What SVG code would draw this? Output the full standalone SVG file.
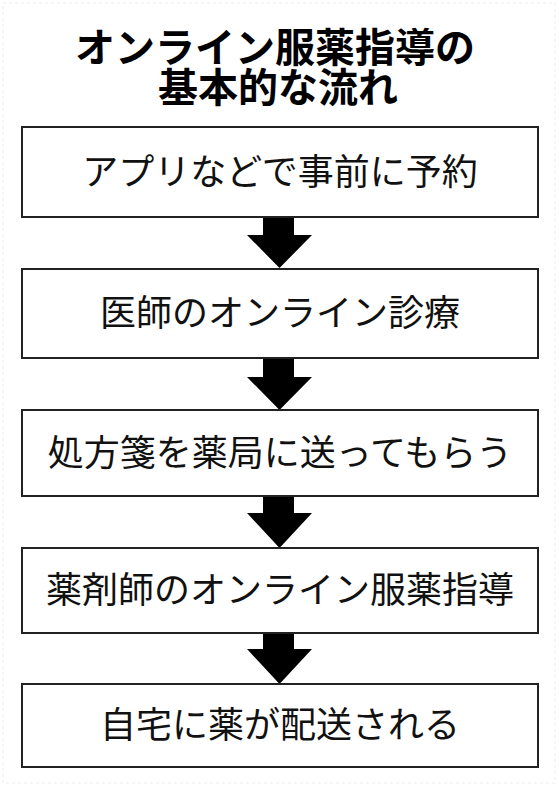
<svg xmlns="http://www.w3.org/2000/svg" width="559" height="787" viewBox="0 0 559 787">
<style>
.box{fill:#fff;stroke:#222;stroke-width:2}
.t{font-family:"Noto Sans CJK JP","Noto Sans CJK SC",sans-serif;font-size:36px;fill:#111;text-anchor:middle}
.title{font-family:"Noto Sans CJK JP","Noto Sans CJK SC",sans-serif;font-size:40px;font-weight:bold;fill:#000;text-anchor:middle}
.arr{fill:#000}
</style>
<rect width="559" height="787" fill="#fff"/>
<rect x="3" y="3" width="552" height="780" fill="none" stroke="#ececec" stroke-width="1" stroke-dasharray="3 3"/>
<g id="title">
<text class="title" x="275" y="62">オンライン服薬指導の</text>
<text class="title" x="278" y="102">基本的な流れ</text>
</g>
<g id="connectors">
<polygon class="arr" points="263,217 294,217 294,235 312,235 279.5,268 247,235 263,235"/>
<polygon class="arr" points="263,358 294,358 294,377 312,377 279.5,410 247,377 263,377"/>
<polygon class="arr" points="263,496 294,496 294,513 312,513 279.5,548 247,513 263,513"/>
<polygon class="arr" points="263,633 294,633 294,649 312,649 279.5,684 247,649 263,649"/>
</g>
<g id="n1"><rect class="box" x="22" y="127" width="516" height="90"/><text class="t" x="280" y="185">アプリなどで事前に予約</text></g>
<g id="n2"><rect class="box" x="22" y="269" width="516" height="89"/><text class="t" x="280" y="326">医師のオンライン診療</text></g>
<g id="n3"><rect class="box" x="22" y="410" width="516" height="86"/><text class="t" x="280" y="466">処方箋を薬局に送ってもらう</text></g>
<g id="n4"><rect class="box" x="22" y="548" width="516" height="85"/><text class="t" x="280" y="603">薬剤師のオンライン服薬指導</text></g>
<g id="n5"><rect class="box" x="22" y="684" width="516" height="83"/><text class="t" x="280" y="738">自宅に薬が配送される</text></g>
</svg>
